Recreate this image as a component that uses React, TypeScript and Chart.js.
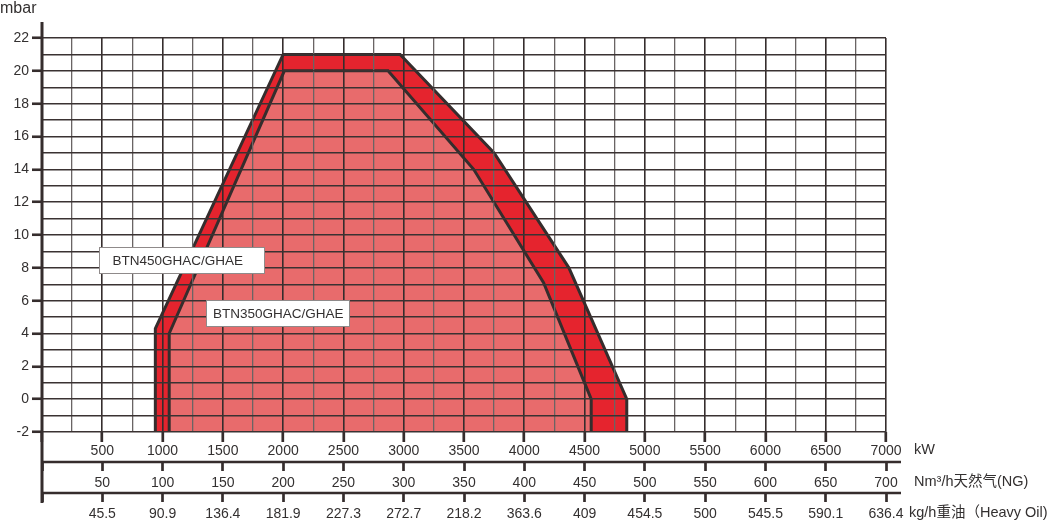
import { useEffect, useRef } from 'react'
import { Chart, registerables } from 'chart.js'

Chart.register(...registerables)

// axis labels
const KW_TICKS = [500, 1000, 1500, 2000, 2500, 3000, 3500, 4000, 4500, 5000, 5500, 6000, 6500, 7000]
const NG_TICKS = ['50', '100', '150', '200', '250', '300', '350', '400', '450', '500', '550', '600', '650', '700']
const OIL_TICKS = ['45.5', '90.9', '136.4', '181.9', '227.3', '272.7', '218.2', '363.6', '409', '454.5', '500', '545.5', '590.1', '636.4']
const UNITS = ['kW', 'Nm³/h天然气(NG)', 'kg/h重油（Heavy Oil)']
const Y_TITLE = 'mbar'

// working fields (kW / mbar), closed along the -2 mbar line by the fill
const SERIES = ['BTN450GHAC/GHAE', 'BTN350GHAC/GHAE']
const BTN450_KW = [940, 940, 2000, 2970, 3750, 4370, 4850, 4850]
const BTN450_MBAR = [-2, 4.3, 21, 21, 15, 8, 0, -2]
const BTN350_KW = [1055, 1055, 2010, 2870, 3580, 4160, 4555, 4555]
const BTN350_MBAR = [-2, 4, 20, 20, 14, 7.1, 0, -2]

const FONT = "'Liberation Sans', Arial, 'Noto Sans CJK SC', sans-serif"
const INK = '#333030'
const LINE = '#352d2d'

const toPoints = (xs: number[], ys: number[]) => xs.map((x, i) => ({ x, y: ys[i] }))

const labelFor = (list: string[]) => (v: number | string) => {
  const i = KW_TICKS.indexOf(Number(v))
  return i < 0 ? '' : list[i]
}

const decor = {
  id: 'decor',
  afterDraw(chart: Chart) {
    const { ctx, chartArea: a, scales } = chart
    const x = scales.x, ng = scales.ng, oil = scales.oil
    ctx.save()
    ctx.strokeStyle = LINE
    ctx.lineCap = 'butt'

    // y axis, running past the grid at both ends
    ctx.lineWidth = 3
    ctx.beginPath()
    ctx.moveTo(a.left, a.top - 16)
    ctx.lineTo(a.left, oil.top + 10)
    ctx.stroke()

    // separators between the bottom axes
    ctx.lineWidth = 2.7
    for (const s of [ng, oil]) {
      ctx.beginPath()
      ctx.moveTo(a.left, s.top)
      ctx.lineTo(a.right + 15, s.top)
      ctx.stroke()
    }

    ctx.fillStyle = INK
    ctx.textAlign = 'left'
    ctx.textBaseline = 'middle'
    ctx.font = `14.5px ${FONT}`
    ctx.fillText(UNITS[0], a.right + 28, x.top + 18)
    ctx.fillText(UNITS[1], a.right + 28, ng.top + 20)
    ctx.fillText(UNITS[2], a.right + 23, oil.top + 20)

    ctx.font = `16px ${FONT}`
    ctx.textBaseline = 'alphabetic'
    ctx.fillText(Y_TITLE, 0, 13)

    // series name boxes
    const boxes = [
      { kw: 473, mbar: 9.27, w: 165, pad: 13 },
      { kw: 1361, mbar: 6.07, w: 143, pad: 6.5 },
    ]
    ctx.font = `13.5px ${FONT}`
    ctx.textBaseline = 'middle'
    boxes.forEach((b, i) => {
      const bx = Math.round(x.getPixelForValue(b.kw)) + 0.5
      const by = Math.round(scales.y.getPixelForValue(b.mbar)) + 0.5
      ctx.fillStyle = '#ffffff'
      ctx.fillRect(bx, by, b.w, 26)
      ctx.strokeStyle = '#8f8a8a'
      ctx.lineWidth = 1
      ctx.strokeRect(bx, by, b.w, 26)
      ctx.fillStyle = INK
      ctx.fillText(SERIES[i], bx + b.pad, by + 13.5)
    })
    ctx.restore()
  },
}

export default function App() {
  const canvasRef = useRef<HTMLCanvasElement>(null)
  const chartRef = useRef<Chart | null>(null)

  useEffect(() => {
    if (!canvasRef.current) return
    if (chartRef.current) chartRef.current.destroy()

    const bottomAxis = (list: string[], weight: number, height: number) => ({
      type: 'linear' as const,
      position: 'bottom' as const,
      min: 0,
      max: 7000,
      weight,
      border: { display: false },
      grid: {
        drawOnChartArea: false,
        drawTicks: true,
        tickLength: 9,
        tickWidth: 2.7,
        tickColor: LINE,
      },
      ticks: {
        stepSize: 500,
        autoSkip: false,
        maxRotation: 0,
        padding: 4,
        color: INK,
        font: { family: FONT, size: 14 },
        callback: labelFor(list),
      },
      afterFit: (s: any) => { s.height = height },
    })

    chartRef.current = new Chart(canvasRef.current, {
      type: 'line',
      data: {
        datasets: [
          {
            label: SERIES[1],
            data: toPoints(BTN350_KW, BTN350_MBAR),
            borderColor: LINE,
            borderWidth: 3,
            backgroundColor: '#e86b6c',
            fill: { value: -2 },
            pointRadius: 0,
            tension: 0,
            clip: false,
            order: 0,
          },
          {
            label: SERIES[0],
            data: toPoints(BTN450_KW, BTN450_MBAR),
            borderColor: LINE,
            borderWidth: 3,
            backgroundColor: '#e5242e',
            fill: { value: -2 },
            pointRadius: 0,
            tension: 0,
            clip: false,
            order: 1,
          },
        ],
      },
      options: {
        responsive: false,
        animation: false,
        events: [],
        layout: { padding: { top: 38, right: 167, left: 0, bottom: 0 } },
        plugins: { legend: { display: false }, tooltip: { enabled: false } },
        scales: {
          x: {
            type: 'linear',
            position: 'bottom',
            min: 0,
            max: 7000,
            weight: 0,
            border: { display: false },
            grid: {
              z: 1,
              color: (c: any) => (c.tick && c.tick.value % 500 === 0 ? '#352d2d' : '#6a6464'),
              lineWidth: (c: any) => (c.tick && c.tick.value % 500 === 0 ? 1.6 : 1.3),
              tickLength: 10,
              tickWidth: 2.7,
              tickColor: (c: any) => (c.tick && c.tick.value % 500 === 0 ? LINE : 'rgba(0,0,0,0)'),
            },
            ticks: {
              stepSize: 250,
              maxTicksLimit: 100,
              autoSkip: false,
              maxRotation: 0,
              padding: 1,
              color: INK,
              font: { family: FONT, size: 14 },
              callback: (v: number | string) => (KW_TICKS.includes(Number(v)) ? String(v) : ''),
            },
            afterFit: (s: any) => { s.height = 30 },
          },
          ng: bottomAxis(NG_TICKS, 1, 31),
          oil: bottomAxis(OIL_TICKS, 2, 29),
          y: {
            type: 'linear',
            position: 'left',
            min: -2,
            max: 22,
            border: { display: false },
            grid: {
              z: 1,
              color: '#3a3232',
              lineWidth: 1.5,
              tickLength: 10,
              tickWidth: 2.6,
              tickColor: (c: any) => (c.tick && c.tick.value % 2 === 0 ? LINE : 'rgba(0,0,0,0)'),
            },
            ticks: {
              stepSize: 1,
              maxTicksLimit: 100,
              autoSkip: false,
              padding: 3,
              color: INK,
              font: { family: FONT, size: 14 },
              callback: (v: number | string) => (Number(v) % 2 === 0 ? String(v) : ''),
            },
            afterFit: (s: any) => { s.width = 42 },
          },
        },
      } as any,
      plugins: [decor],
    })

    return () => { chartRef.current?.destroy() }
  }, [])

  return (
    <div style={{ position: 'absolute', left: 0, top: 0, width: 1053, height: 522, background: '#fff' }}>
      <canvas ref={canvasRef} width={1053} height={522} style={{ display: 'block' }} />
    </div>
  )
}
